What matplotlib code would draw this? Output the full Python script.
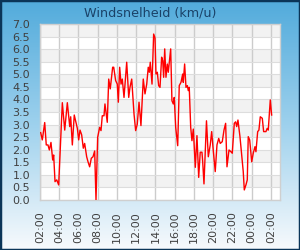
## Windsnelheid chart
import matplotlib
matplotlib.use("Agg")
import matplotlib.pyplot as plt
import numpy as np

# ----- data: hours after 02:00, wind speed (km/u) ----- #
hours = [0.07, 0.24, 0.49, 0.65, 0.83, 0.97, 1.14, 1.32, 1.42, 1.56, 1.74, 1.94,
         2.32, 2.57, 2.84, 3.09, 3.19, 3.36, 3.56, 3.88, 4.02, 4.16, 4.33, 4.50,
         4.64, 4.85, 4.99, 5.16, 5.33, 5.51, 5.68, 5.82, 5.99, 6.20, 6.34, 6.47,
         6.65, 6.75, 6.99, 7.14, 7.30, 7.55, 7.66, 7.86, 8.03, 8.14, 8.28, 8.42,
         8.55, 8.73, 9.01, 9.22, 9.35, 9.53, 9.77, 9.94, 10.11, 10.29, 10.49, 10.73,
         10.91, 11.09, 11.25, 11.36, 11.46, 11.64, 11.81, 11.95, 12.05, 12.19, 12.33, 12.47,
         12.64, 12.75, 12.85, 12.96, 13.09, 13.23, 13.33, 13.58, 13.71, 13.85, 13.95, 14.10,
         14.31, 14.47, 14.65, 14.83, 14.89, 15.03, 15.17, 15.31, 15.41, 15.51, 15.66, 15.79,
         15.93, 16.14, 16.31, 16.49, 16.65, 16.83, 16.90, 17.04, 17.30, 17.49, 17.69, 17.84,
         18.00, 18.21, 18.39, 18.57, 18.73, 18.94, 19.12, 19.29, 19.43, 19.64, 19.84, 19.98,
         20.19, 20.33, 20.44, 20.57, 20.78, 20.96, 21.12, 21.23, 21.40, 21.54, 21.64, 21.79,
         22.00, 22.16, 22.34, 22.44, 22.62, 22.75, 22.89, 23.10, 23.24, 23.48, 23.61, 23.72,
         23.93, 24.07]
speed = [2.68, 2.39, 3.08, 2.19, 2.19, 1.99, 2.29, 1.59, 1.79, 0.73, 0.80, 0.60,
         3.87, 2.78, 3.87, 2.92, 3.31, 2.19, 3.38, 2.85, 2.39, 2.78, 2.59, 2.06,
         2.25, 1.72, 1.52, 1.32, 1.66, 1.72, 1.95, 0.00, 2.49, 2.89, 2.76, 3.35,
         3.35, 3.82, 3.09, 4.81, 4.42, 5.28, 5.28, 4.75, 4.61, 3.89, 5.28, 4.61,
         4.81, 4.08, 5.48, 4.08, 4.48, 4.81, 3.42, 2.76, 3.02, 3.89, 2.96, 4.81,
         4.22, 4.61, 5.28, 5.08, 5.48, 4.61, 6.60, 6.45, 5.01, 5.08, 4.55, 4.48,
         5.68, 5.54, 4.88, 6.01, 4.88, 5.41, 5.08, 6.01, 3.95, 3.82, 4.08, 2.89,
         2.16, 4.55, 4.68, 5.01, 4.68, 5.41, 4.48, 4.55, 4.35, 4.48, 2.89, 2.36,
         2.82, 1.30, 2.56, 0.90, 1.90, 1.90, 1.56, 0.64, 3.15, 1.72, 2.19, 2.72,
         1.99, 1.13, 2.19, 2.45, 2.25, 2.32, 2.78, 3.05, 1.32, 1.99, 1.92, 1.86,
         3.05, 3.11, 2.92, 3.18, 2.52, 1.79, 1.13, 0.40, 0.60, 0.80, 2.52, 2.39,
         1.52, 1.86, 2.12, 1.92, 2.72, 2.78, 3.31, 3.25, 2.72, 2.72, 2.85, 2.78,
         3.98, 3.38]

tick_hours = list(range(0, 25, 2))
tick_labels = ["02:00", "04:00", "06:00", "08:00", "10:00", "12:00", "14:00",
               "16:00", "18:00", "20:00", "22:00", "00:00", "02:00"]

fig = plt.figure(figsize=(3, 2.5), dpi=100)

# background gradient + border
bg = fig.add_axes([0, 0, 1, 1], zorder=-10)
top = np.array([0.32, 0.67, 0.86])
mid = np.array([0.62, 0.82, 0.93])
bot = np.array([0.97, 0.98, 0.99])
t = np.linspace(0, 1, 250)[:, None]
grad = np.where(t < 0.5, top + (mid - top) * (t / 0.5), mid + (bot - mid) * ((t - 0.5) / 0.5))
bg.imshow(grad[:, None, :], aspect="auto", extent=[0, 1, 0, 1])
bg.set_xlim(0, 1)
bg.set_ylim(0, 1)
bg.axis("off")
bg.add_patch(plt.Rectangle((0, 0), 1, 1, fill=False, edgecolor="#0b3558", lw=2.5,
                           transform=bg.transAxes, clip_on=False))

fig.text(0.5, 0.950, "Windsnelheid (km/u)", ha="center", va="center",
         fontsize=9.2, color="#1a4268")

ax = fig.add_axes([40 / 300, 50 / 250, 240 / 300, 176 / 250])
ax.set_facecolor("white")
for lo in np.arange(0.5, 7.0, 1.0):
    ax.axhspan(lo, lo + 0.5, color="#f2f2f2", lw=0, zorder=0)

ax.plot(hours, speed, color="#ff0000", lw=1.0, zorder=3)

ax.set_xlim(0, 24.94)
ax.set_ylim(0, 7)
ax.set_yticks(np.arange(0, 7.01, 0.5))
ax.set_yticklabels([f"{v:.1f}" for v in np.arange(0, 7.01, 0.5)])
ax.set_xticks(tick_hours)
ax.set_xticklabels(tick_labels, rotation=90)
ax.tick_params(axis="y", length=0, pad=7, labelsize=8, labelcolor="#404040")
ax.tick_params(axis="x", length=0, pad=8, labelsize=8, labelcolor="#404040")

ax.yaxis.grid(True, color="#dddddd", lw=0.8, zorder=1)
ax.xaxis.grid(True, color="#cccccc", lw=1.0, zorder=1)
ax.set_axisbelow(True)
for s in ax.spines.values():
    s.set_color("#cfcfcf")
    s.set_linewidth(1.0)

plt.savefig("out.png", dpi=100)
